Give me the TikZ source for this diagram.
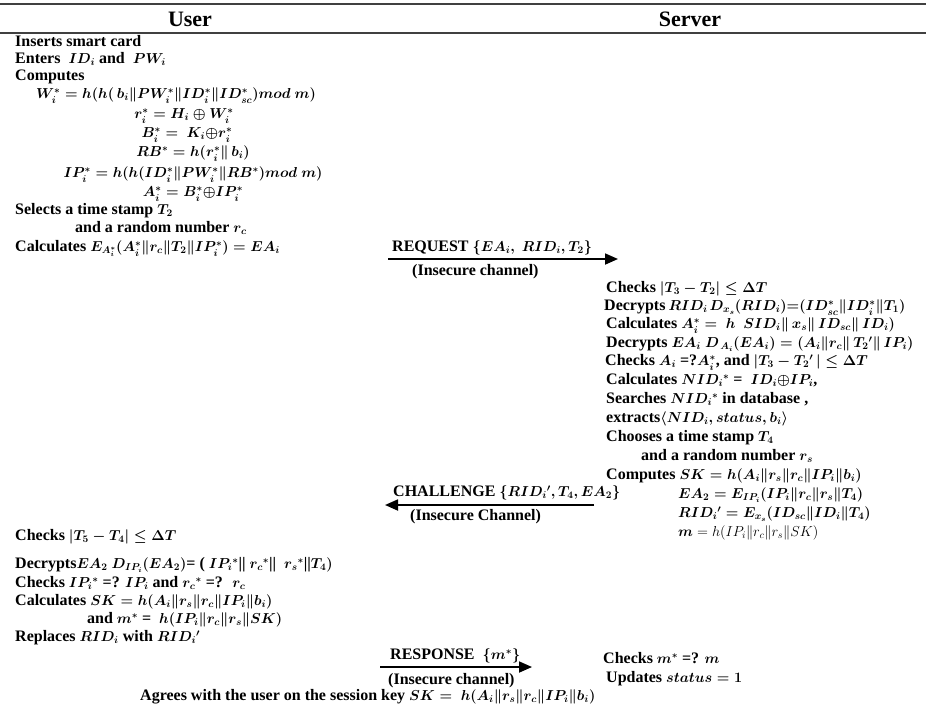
\documentclass[tikz,border=0pt]{standalone}
\usepackage{amsmath}
\usepackage[no-math]{fontspec}
\setmainfont{Liberation Serif}
\DeclareMathSizes{16}{14.4}{10}{7}
\usetikzlibrary{arrows.meta}

\begin{document}
\begin{tikzpicture}[x=1pt,y=-1pt,
  plain/.style={anchor=west,inner sep=0pt,text height=10.5pt,text depth=3pt,
    font=\fontsize{16}{18}\selectfont\bfseries},
  txt/.style={plain,font=\fontsize{16}{18}\selectfont\bfseries\boldmath},
  eqn/.style={txt,anchor=center},
  head/.style={inner sep=0pt,font=\fontsize{22}{26}\selectfont\bfseries},
  rule/.style={line width=1.3pt,black!75},
  msg/.style={line width=1.8pt,-{Triangle[length=13pt,width=11pt]}}]

\useasboundingbox (0,0) rectangle (926,705);

% Header
\coordinate (tl) at (0,4);  \coordinate (tr) at (926,4);
\coordinate (bl) at (0,33); \coordinate (br) at (926,33);
\draw[rule] (tl) -- (tr);
\draw[rule] (bl) -- (br);
\node[head] (user) at (190,19) {User};
\node[head] (server) at (690,19) {Server};

% User: login phase
\node[txt] (ins) at (15,43) {Inserts smart card};
\node[txt] (ent) at (15,60) {Enters \ $ID_i$ and \ $PW_i$};
\node[txt] (comp) at (15,77) {Computes};
\node[eqn] (wi) at (176,95) {$W_i^* = h(h(\,b_i\|PW_i^*\|ID_i^*\|ID_{sc}^*)mod\ m)$};
\node[eqn] (ri) at (184,115) {$r_i^* = H_i \oplus W_i^*$};
\node[eqn] (bi) at (187,134) {$B_i^* =\ K_i{\oplus}r_i^*$};
\node[eqn] (rb) at (193,153) {$RB^* = h(r_i^*\|\,b_i)$};
\node[eqn] (ipi) at (193,174) {$IP_i^* = h(h(ID_i^*\|PW_i^*\|RB^*)mod\ m)$};
\node[eqn] (ai) at (193,193) {$A_i^* = B_i^*{\oplus}IP_i^*$};
\node[txt] (sel) at (15,211) {Selects a time stamp $T_2$};
\node[txt] (rnd) at (75,229) {and a random number $r_c$};
\node[txt] (calc) at (15,248) {Calculates $E_{A_i^*}(A_i^*\|r_c\|T_2\|IP_i^*) = EA_i$};

% Request message
\coordinate (reqA) at (388,259);
\coordinate (reqB) at (618,259);
\draw[msg] (reqA) -- (reqB);
\node[txt] (req) at (392,248) {REQUEST $\{EA_i,\ RID_i, T_2\}$};
\node[txt] (reqch) at (412,272) {(Insecure channel)};

% Server: verification
\node[txt] (chk) at (606,289) {Checks $|T_3 - T_2| \le \Delta T$};
\node[txt] (decrid) at (604,307) {Decrypts\hspace{-1pt} $RID_i$\hspace{-2pt} $D_{x_s}(RID_i){=}(ID_{sc}^*\|ID_i^*\|T_1)$};
\node[txt] (calca) at (606,325) {Calculates $A_i^* =\ h\ \ SID_i\|\,x_s\|\,ID_{sc}\|\,ID_i)$};
\node[txt] (decea) at (606,344) {Decrypts $EA_i$ $D_{\,A_i}(EA_i) = (A_i\|r_c\|\,T_2{}'\|\,IP_i)$};
\node[txt] (chka) at (605,362) {Checks $A_i$ =?$A_i^*$, and $|T_3 - T_2{}'\,| \le \Delta T$};
\node[txt] (calcnid) at (606,381) {Calculates $NID_i{}^*$ = \ $ID_i{\oplus}IP_i$,};
\node[txt] (srch) at (606,400) {Searches $NID_i{}^*$ in database ,};
\node[txt] (extr) at (606,419) {extracts$\langle NID_i, status, b_i\rangle$};
\node[txt] (chs) at (606,438) {Chooses a time stamp $T_4$};
\node[txt] (rnds) at (641,457) {and a random number $r_s$};
\node[txt] (compsk) at (606,476) {Computes $SK = h(A_i\|r_s\|r_c\|IP_i\|b_i)$};
\node[txt] (ea2) at (678,495) {$EA_2 = E_{IP_i}(IP_i\|r_c\|r_s\|T_4)$};
\node[txt] (rid2) at (678,514) {$RID_i{}' = E_{x_s}(ID_{sc}\|ID_i\|T_4)$};
\node[plain] (mval) at (678,533) {$\boldsymbol{m} = h(IP_i\|r_c\|r_s\|SK)$};

% Challenge message
\coordinate (chalA) at (594,505);
\coordinate (chalB) at (385,505);
\draw[msg] (chalA) -- (chalB);
\node[txt] (chal) at (393,493) {CHALLENGE $\{RID_i{}', T_4, EA_2\}$};
\node[txt] (chalch) at (410,517) {(Insecure Channel)};

% User: session key
\node[txt] (chkt) at (15,537) {Checks $|T_5 - T_4| \le \Delta T$};
\node[txt] (decea2) at (15,565) {Decrypts$EA_2$ $D_{IP_i}(EA_2)$= ( $IP_i{}^*$|| $r_c{}^*$|| \ $r_s{}^*$||$T_4)$};
\node[txt] (chkip) at (15,584) {Checks $IP_i{}^*$ =? $IP_i$ and $r_c{}^*$ =? \ $r_c$};
\node[txt] (calcsk) at (15,602) {Calculates $SK = h(A_i\|r_s\|r_c\|IP_i\|b_i)$};
\node[txt] (mstar) at (87,620) {and $m^*$ = \ $h(IP_i\|r_c\|r_s\|SK)$};
\node[txt] (repl) at (15,638) {Replaces $RID_i$ with $RID_i{}'$};

% Response message
\coordinate (respA) at (380,667);
\coordinate (respB) at (532,667);
\draw[msg] (respA) -- (respB);
\node[txt] (resp) at (390,656) {RESPONSE \ $\{m^*\}$};
\node[txt] (respch) at (388,681) {(Insecure channel)};
\node[txt] (chkm) at (603,660) {Checks $m^*$ =? $m$};
\node[txt] (upd) at (606,679) {Updates $status = 1$};
\node[txt] (agree) at (140,697) {Agrees with the user on the session key $SK =\ h(A_i\|r_s\|r_c\|IP_i\|b_i)$};
\end{tikzpicture}
\end{document}
